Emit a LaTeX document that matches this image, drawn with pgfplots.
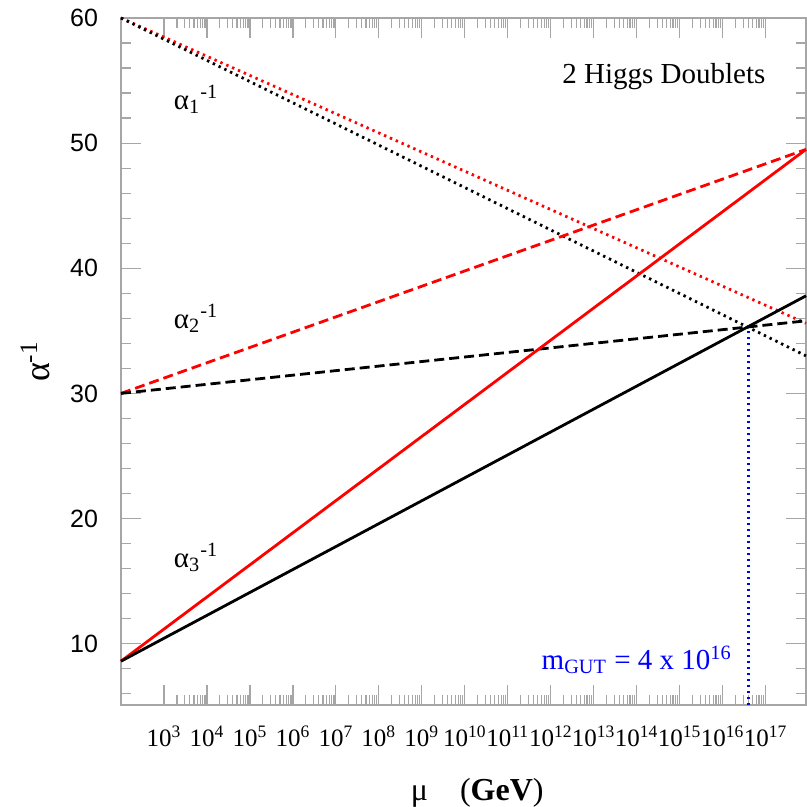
\documentclass[border=0pt]{standalone}
\usepackage{fontspec}
\setmainfont{Liberation Serif}
\setsansfont{Liberation Sans}
\usepackage{pgfplots}
\pgfplotsset{compat=1.18}
\begin{document}
\begin{tikzpicture}
\begin{axis}[
  scale only axis, width=342.5pt, height=343.5pt,
  xmode=log, xmin=1e2, xmax=8.7e17, ymin=5.1, ymax=60,
  xtick={1e3,1e4,1e5,1e6,1e7,1e8,1e9,1e10,1e11,1e12,1e13,1e14,1e15,1e16,1e17},
  xticklabels={10\textsuperscript{3},10\textsuperscript{4},10\textsuperscript{5},10\textsuperscript{6},10\textsuperscript{7},10\textsuperscript{8},10\textsuperscript{9},10\textsuperscript{10},10\textsuperscript{11},10\textsuperscript{12},10\textsuperscript{13},10\textsuperscript{14},10\textsuperscript{15},10\textsuperscript{16},10\textsuperscript{17}},
  ytick={10,20,30,40,50,60},
  yticklabels={10,20,30,40,50,60},
  minor ytick={6,8,12,14,16,18,22,24,26,28,32,34,36,38,42,44,46,48,52,54,56,58},
  tick align=inside,
  axis line style={gray!70, line width=0.8pt},
  every tick/.style={gray!70, line width=0.6pt},
  major tick length=10pt, minor tick length=5pt,
  yticklabel style={font=\sffamily\fontsize{12.5}{14}\selectfont, xshift=-8pt},
  xticklabel style={font=\fontsize{12.5}{14}\selectfont, yshift=-7pt, inner xsep=0pt},
  ylabel={α\textsuperscript{-1}},
  xlabel={μ\quad (\textbf{GeV})},
  every axis y label/.style={at={(axis description cs:-0.125,0.5)}, rotate=90, anchor=center, font=\fontsize{18}{20}\selectfont},
  every axis x label/.style={at={(axis description cs:0.52,-0.128)}, anchor=center, font=\fontsize{16}{18}\selectfont},
  clip=false,
]
% alpha_1^{-1}
\addplot[red, line width=1.4pt, dash pattern=on 1.2pt off 2pt] coordinates {(1e2,60) (8.7e17,35.6)};
\addplot[black, line width=1.4pt, dash pattern=on 1.2pt off 2pt] coordinates {(1e2,60) (8.7e17,33.0)};
% alpha_2^{-1}
\addplot[red, line width=1.4pt, dash pattern=on 5pt off 2.5pt] coordinates {(1e2,30) (8.7e17,49.5)};
\addplot[black, line width=1.4pt, dash pattern=on 5pt off 2.5pt] coordinates {(1e2,30) (8.7e17,35.8)};
% alpha_3^{-1}
\addplot[red, line width=1.4pt] coordinates {(1e2,8.6) (8.7e17,49.5)};
\addplot[black, line width=1.4pt] coordinates {(1e2,8.6) (8.7e17,37.8)};
% m_GUT
\addplot[blue, line width=1.2pt, dash pattern=on 1pt off 2pt] coordinates {(4e16,5.1) (4e16,35.3)};
\node[anchor=base west, font=\fontsize{14.5}{16}\selectfont] at (axis cs:1.17e3,52.7) {α\textsubscript{1}\textsuperscript{-1}};
\node[anchor=base west, font=\fontsize{14.5}{16}\selectfont] at (axis cs:1.17e3,35.2) {α\textsubscript{2}\textsuperscript{-1}};
\node[anchor=base west, font=\fontsize{14.5}{16}\selectfont] at (axis cs:1.17e3,16.1) {α\textsubscript{3}\textsuperscript{-1}};
\node[font=\fontsize{14.5}{16}\selectfont] at (axis cs:4.3e14,55.3) {2 Higgs Doublets};
\node[blue, font=\fontsize{14.5}{16}\selectfont] at (axis cs:1e14,8.7) {m\textsubscript{GUT} = 4 x 10\textsuperscript{16}};
\end{axis}
\pgfresetboundingbox
\path[use as bounding box] (-60.5pt,-51pt) rectangle (343pt,352.5pt);
\end{tikzpicture}
\end{document}
